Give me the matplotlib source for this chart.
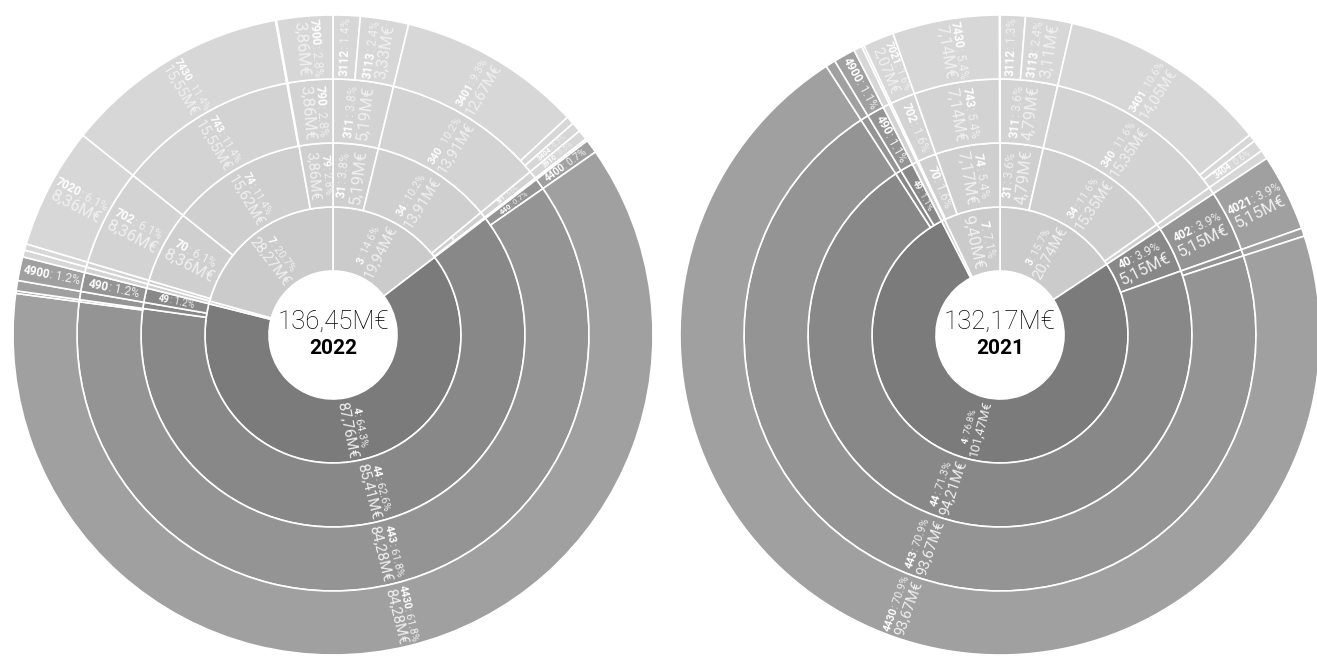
import numpy as np
import matplotlib
matplotlib.use('Agg')
import matplotlib.pyplot as plt
from matplotlib.font_manager import FontProperties
from matplotlib.textpath import TextToPath

# leaves of each sunburst, clockwise from 12 o'clock ('' = unlabelled sliver)
lvl1_2022 = ['3', '3', '3', '3', '3', '3', '3', '4', '4', '4', '4', '4', '', '7', '7', '7', '7', '7']
lvl2_2022 = ['31', '31', '34', '34', '34', '39', '', '44', '44', '44', '', '49', '', '', '70', '74', '74', '79']
lvl3_2022 = ['311', '311', '340', '340', '340', '391', '', '440', '443', '', '', '490', '', '', '702', '743', '', '790']
lvl4_2022 = ['3112', '3113', '3401', '', '3404', '3910', '', '4400', '4430', '', '', '4900', '', '', '7020', '7430', '', '7900']
val_2022 = [1.86, 3.33, 12.67, 0.56, 0.68, 0.70, 0.14, 0.95, 84.28, 0.18, 0.71, 1.64, 0.48, 0.43, 8.36, 15.55, 0.07, 3.86]

lvl1_2021 = ['3', '3', '3', '3', '3', '3', '4', '4', '4', '4', '4', '', '7', '7', '7', '7']
lvl2_2021 = ['31', '31', '34', '34', '34', '', '40', '44', '44', '', '49', '', '', '70', '74', '74']
lvl3_2021 = ['311', '311', '340', '340', '340', '', '402', '', '443', '', '490', '', '', '702', '743', '']
lvl4_2021 = ['3112', '3113', '3401', '', '3404', '', '4021', '', '4430', '', '4900', '', '', '7021', '7430', '']
val_2021 = [1.68, 3.11, 14.05, 0.50, 0.80, 0.60, 5.15, 0.54, 93.67, 0.66, 1.45, 0.56, 0.16, 2.07, 7.14, 0.03]

years = ['2022', '2021']

# ring colours per top level category (inner -> outer)
dark = ['#7b7b7b', '#888888', '#949494', '#a0a0a0']
light = ['#cbcbcb', '#cfcfcf', '#d3d3d3', '#d7d7d7']

W, H = 1317, 657
RING = 64
LABEL_FAMILY = ['Liberation Sans Narrow', 'Roboto', 'DejaVu Sans']
fp_reg = FontProperties(family=LABEL_FAMILY)
fp_bold = FontProperties(family=LABEL_FAMILY, weight='bold')
fp_center = FontProperties(family=['Roboto', 'DejaVu Sans'], weight='light')
fp_year = FontProperties(family=['Roboto', 'DejaVu Sans'], weight='bold')
t2p = TextToPath()
PX = 100 / 72


def text_w(s, fp, size):
    p = fp.copy()
    p.set_size(size)
    w, h, d = t2p.get_text_width_height_descent(s, p, ismath=False)
    return w * PX


def groups(levels, vals, k):
    keys, out = [], []
    for i, v in enumerate(vals):
        key = tuple(lv[i] for lv in levels[:k + 1])
        if keys and keys[-1] == key:
            out[-1] += v
        else:
            keys.append(key)
            out.append(v)
    return keys, out


def label(ax, cx, cy, r, ang, arc, code, pct, money):
    phi = ang if np.cos(np.radians(ang)) >= 0 else ang + 180
    d = np.array([np.cos(np.radians(phi)), np.sin(np.radians(phi))])
    u = np.array([-d[1], d[0]])
    c = np.array([cx + r * np.cos(np.radians(ang)), cy + r * np.sin(np.radians(ang))])
    two = arc >= 26
    fs1, fs2 = 8.6, 12.0
    w1 = text_w(code, fp_bold, fs1) + text_w(': ' + pct, fp_reg, fs1)
    wmax = max(w1, text_w(money, fp_reg, fs2)) if two else w1
    s = min(1.0, (RING - 6) / wmax)
    if two:
        s = min(s, arc * 0.9 / ((fs1 + fs2) * PX * 1.0))
    else:
        s = min(s, arc * 0.8 / (fs1 * PX))
    fs1, fs2 = fs1 * s, fs2 * s
    lh1, lh2 = fs1 * PX * 1.0, fs2 * PX * 1.0
    hh = lh1 + lh2 if two else lh1
    c1 = c + u * (hh / 2 - lh1 / 2)
    wb = text_w(code, fp_bold, fs1)
    wr = text_w(': ' + pct, fp_reg, fs1)
    p0 = c1 - d * (wb + wr) / 2
    kw = dict(rotation=phi, rotation_mode='anchor', va='center')
    ax.text(p0[0], p0[1], code, ha='left', fontproperties=fp_bold, fontsize=fs1,
            color='white', **kw)
    p1 = p0 + d * wb
    ax.text(p1[0], p1[1], ': ' + pct, ha='left', fontproperties=fp_reg, fontsize=fs1,
            color='#f0f0f0', **kw)
    if two:
        c2 = c - u * (hh / 2 - lh2 / 2)
        ax.text(c2[0], c2[1], money, ha='center', fontproperties=fp_reg, fontsize=fs2,
                color='#f0f0f0', **kw)


def sunburst(ax, cx, cy, levels, vals, year):
    total = sum(vals)
    for k in range(4):
        keys, gv = groups(levels, vals, k)
        cols = [(dark if key[0] == '4' else light)[k] for key in keys]
        ax.pie(gv, radius=RING * (k + 2), center=(cx, cy), startangle=90, counterclock=False,
               colors=cols, normalize=True,
               wedgeprops=dict(width=RING, edgecolor='white', linewidth=1.2))
        start = 90 - 360 * np.concatenate([[0], np.cumsum(gv)[:-1]]) / total
        span = 360 * np.array(gv) / total
        r_mid = RING * (k + 1.5)
        for key, v, a0, sp in zip(keys, gv, start, span):
            code = key[-1]
            arc = np.radians(sp) * r_mid
            if code == '' or arc < 5:
                continue
            money = f'{v:.2f}'.replace('.', ',') + 'M€'
            label(ax, cx, cy, r_mid, a0 - sp / 2, arc, code, f'{100 * v / total:.1f}%', money)
    ax.text(cx, cy + 13, f'{total:.2f}'.replace('.', ',') + 'M€', ha='center', va='center',
            fontproperties=fp_center, fontsize=18.5, color='black')
    ax.text(cx, cy - 13, year, ha='center', va='center', fontproperties=fp_year,
            fontsize=15, color='black')


fig = plt.figure(figsize=(W / 100, H / 100), dpi=100)
ax = fig.add_axes([0, 0, 1, 1])
sunburst(ax, 333, 322, [lvl1_2022, lvl2_2022, lvl3_2022, lvl4_2022], val_2022, years[0])
sunburst(ax, 1000, 322, [lvl1_2021, lvl2_2021, lvl3_2021, lvl4_2021], val_2021, years[1])
ax.set_xlim(0, W)
ax.set_ylim(0, H)
ax.set_aspect('auto')
ax.axis('off')
fig.savefig('out.png', dpi=100, facecolor='white')
